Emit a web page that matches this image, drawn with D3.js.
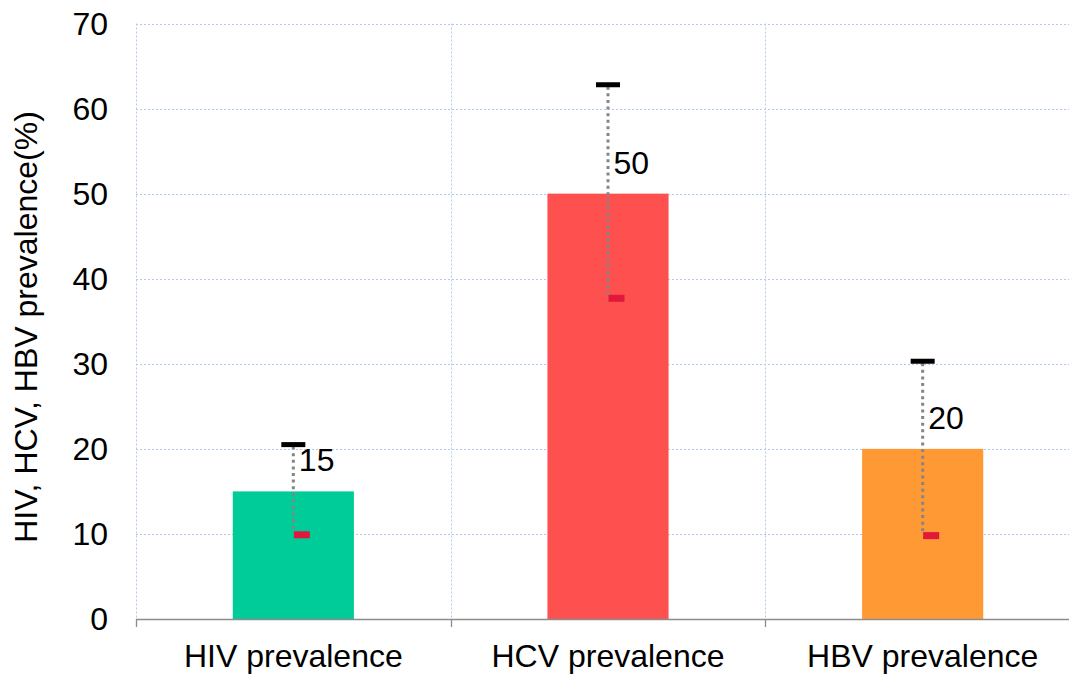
<!DOCTYPE html>
<html>
<head>
<meta charset="utf-8">
<script src="https://cdn.jsdelivr.net/npm/d3@7"></script>
<style>
  html, body { margin: 0; padding: 0; background: #fff; }
  svg { display: block; font-family: "Liberation Sans", Arial, Helvetica, sans-serif; }
</style>
</head>
<body>
<svg id="chart" width="1069" height="674"></svg>
<script>
// Prevalence values and their ranges (high / low markers)
const categories = ["HIV prevalence", "HCV prevalence", "HBV prevalence"];
const prevalence = [15, 50, 20];
const highValues = [20.5, 62.8, 30.3];
const lowValues = [9.9, 37.7, 9.8];
const barColors = ["#00cc99", "#ff5050", "#ff9933"];
const yTicks = [0, 10, 20, 30, 40, 50, 60, 70];
const yTitle = "HIV, HCV, HBV prevalence(%)";

const svg = d3.select("#chart");
const plotLeft = 136, plotRight = 1080, plotTop = 23.5, plotBottom = 619;
const fontSize = 32;

const x = d3.scaleBand().domain(categories).range([plotLeft, plotRight]).padding(0);
const y = d3.scaleLinear().domain([0, 70]).range([plotBottom, plotTop]);

// Gridlines
const grid = svg.append("g")
  .attr("stroke", "#b3cbe8")
  .attr("stroke-width", 1)
  .attr("stroke-dasharray", "2,2");
grid.selectAll("line.h").data(yTicks.filter(d => d > 0)).join("line")
  .attr("class", "h")
  .attr("x1", plotLeft).attr("x2", plotRight)
  .attr("y1", d => Math.round(y(d)) + 0.5).attr("y2", d => Math.round(y(d)) + 0.5);
grid.selectAll("line.v").data(categories).join("line")
  .attr("class", "v")
  .attr("x1", d => Math.round(x(d)) + 0.5).attr("x2", d => Math.round(x(d)) + 0.5)
  .attr("y1", plotTop).attr("y2", plotBottom);

// Y-axis tick labels
svg.append("g").selectAll("text").data(yTicks).join("text")
  .attr("x", 108).attr("y", d => y(d) + 11)
  .attr("text-anchor", "end")
  .attr("font-size", fontSize)
  .attr("fill", "#000")
  .text(d => d);

// Y-axis title
svg.append("text")
  .attr("transform", "translate(37, 327) rotate(-90)")
  .attr("text-anchor", "middle")
  .attr("font-size", fontSize)
  .attr("fill", "#000")
  .text(yTitle);

// Bars
const barW = x.bandwidth() * 0.385;
const data = categories.map((c, i) => ({
  cat: c, v: prevalence[i], hi: highValues[i], lo: lowValues[i], color: barColors[i]
}));

svg.append("g").selectAll("rect").data(data).join("rect")
  .attr("x", d => x(d.cat) + x.bandwidth() / 2 - barW / 2)
  .attr("y", d => y(d.v))
  .attr("width", barW)
  .attr("height", d => y(0) - y(d.v))
  .attr("fill", d => d.color);

// X axis line and ticks
const xAxis = svg.append("g").attr("stroke", "#8c8c8c").attr("stroke-width", 1.3);
xAxis.append("line")
  .attr("x1", plotLeft).attr("x2", plotRight)
  .attr("y1", plotBottom + 0.5).attr("y2", plotBottom + 0.5);
xAxis.selectAll("line.tick").data(categories.concat(["end"])).join("line")
  .attr("class", "tick")
  .attr("x1", (d, i) => Math.round(i < categories.length ? x(d) : plotRight) + 0.5)
  .attr("x2", (d, i) => Math.round(i < categories.length ? x(d) : plotRight) + 0.5)
  .attr("y1", plotBottom).attr("y2", plotBottom + 8);

// X-axis labels
svg.append("g").selectAll("text").data(categories).join("text")
  .attr("x", d => x(d) + x.bandwidth() / 2)
  .attr("y", 667)
  .attr("text-anchor", "middle")
  .attr("font-size", fontSize)
  .attr("fill", "#000")
  .text(d => d);

// High-low range: dotted connector, black high mark, red low mark
const rng = svg.append("g");
rng.selectAll("line").data(data).join("line")
  .attr("x1", d => x(d.cat) + x.bandwidth() / 2)
  .attr("x2", d => x(d.cat) + x.bandwidth() / 2)
  .attr("y1", d => y(d.hi) + 2)
  .attr("y2", d => y(d.lo) - 3)
  .attr("stroke", "#858585")
  .attr("stroke-width", 3)
  .attr("stroke-dasharray", "3,3.6");
rng.selectAll("rect.hi").data(data).join("rect")
  .attr("class", "hi")
  .attr("x", d => x(d.cat) + x.bandwidth() / 2 - 12)
  .attr("y", d => y(d.hi) - 2.5)
  .attr("width", 24).attr("height", 5)
  .attr("fill", "#000");
rng.selectAll("rect.lo").data(data).join("rect")
  .attr("class", "lo")
  .attr("x", d => x(d.cat) + x.bandwidth() / 2 + 0.5)
  .attr("y", d => y(d.lo) - 3.5)
  .attr("width", 16).attr("height", 7)
  .attr("fill", "#e0193c");

// Value labels
svg.append("g").selectAll("text").data(data).join("text")
  .attr("x", d => x(d.cat) + x.bandwidth() / 2 + 5.5)
  .attr("y", d => y(d.v) - 20)
  .attr("font-size", fontSize)
  .attr("fill", "#000")
  .text(d => d.v);
</script>
</body>
</html>
